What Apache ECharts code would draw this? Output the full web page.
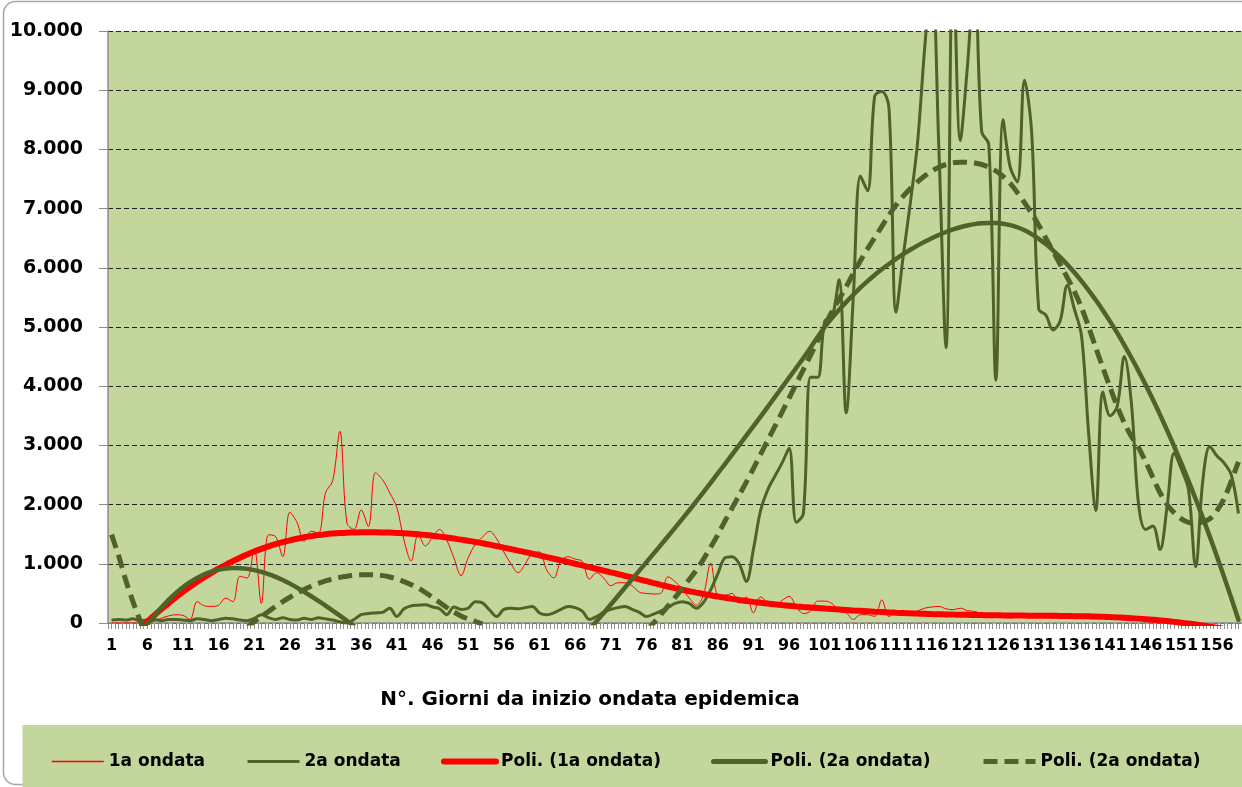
<!doctype html>
<html lang="it">
<head>
<meta charset="UTF-8" />
<title>Ondate epidemiche</title>
<style>
  html, body { margin: 0; padding: 0; background: #fff; }
  #chart { width: 1242px; height: 787px; }
</style>
</head>
<body>
<div id="chart"></div>
<script src="https://cdn.jsdelivr.net/npm/echarts@6/dist/echarts.min.js"></script>
<script>
// giorni da inizio ondata (1..159)
var days = [];
for (var i = 1; i <= 159; i++) days.push(String(i));

// 1a ondata (valori giornalieri, finisce al giorno 150)
var firstWave = [
  0, 0, 0, 0, 0, 10, 30, 80, 120, 140,
  130, 60, 360, 290, 280, 300, 420, 360, 790, 760,
  1260, 330, 1490, 1460, 1120, 1870, 1700, 1380, 1550, 1520,
  2200, 2400, 3240, 1690, 1580, 1910, 1630, 2540, 2420, 2200,
  1950, 1400, 1050, 1500, 1300, 1450, 1580, 1400, 1100, 800,
  1100, 1330, 1450, 1550, 1420, 1200, 1000, 850, 1000, 1180,
  1200, 900, 760, 1050, 1120, 1080, 1040, 740, 850, 760,
  630, 680, 680, 630, 520, 500, 490, 500, 780, 700,
  580, 420, 300, 480, 1010, 480, 470, 500, 340, 440,
  170, 440, 350, 290, 380, 450, 280, 160, 200, 370,
  370, 330, 200, 170, 60, 140, 140, 110, 390, 110,
  170, 150, 140, 200, 250, 270, 280, 240, 225, 250,
  210, 195, 160, 130, 110, 100, 85, 110, 140, 120,
  110, 95, 85, 110, 120, 130, 140, 125, 112, 90,
  60, 70, 80, 60, 50, 40, 30, 20, 10, 0,
  null, null, null, null, null, null, null, null, null
];

// 2a ondata
var secondWave = [
  50, 60, 50, 70, 40, 50, 60, 40, 60, 60,
  50, 40, 70, 60, 40, 60, 80, 70, 50, 40,
  80, 140, 90, 60, 90, 60, 50, 80, 60, 90,
  70, 50, 20, 0, 60, 140, 160, 170, 180, 250,
  110, 240, 290, 300, 310, 270, 240, 140, 270, 230,
  250, 360, 340, 220, 110, 230, 250, 240, 260, 280,
  170, 140, 170, 230, 280, 260, 200, 60, 110, 180,
  230, 260, 280, 230, 180, 110, 150, 200, 260, 330,
  360, 330, 250, 350, 560, 830, 1100, 1120, 1000, 700,
  1250, 1900, 2250, 2480, 2700, 2950, 1700, 1850, 4150, 4150,
  5100, 5150, 5800, 3550, 5500, 7550, 7300, 8900, 8980, 8700,
  5250, 6200, 7100, 8100, 9700, 11000, 8000, 4650, 11500, 8150,
  9400, 11000, 8300, 8080, 4100, 8500, 7700, 7450, 9170, 8300,
  5300, 5200, 4950, 5100, 5700, 5300, 4850, 3200, 1900, 3900,
  3500, 3660, 4500, 3700, 2000, 1580, 1640, 1240, 1970, 2870,
  2600, 2250, 950, 2400, 2980, 2820, 2700, 2500, 1850
];

// linea di tendenza polinomiale 1a ondata (sotto lo zero non si vede)
var trendFirst = [
  -560, -440, -320, -205, -95, 22, 130, 235, 336, 433,
  525, 612, 695, 773, 847, 917, 983, 1045, 1103, 1157,
  1207, 1253, 1295, 1333, 1367, 1397, 1424, 1448, 1468, 1485,
  1499, 1510, 1519, 1525, 1529, 1531, 1532, 1532, 1530, 1527,
  1522, 1516, 1508, 1498, 1487, 1474, 1459, 1443, 1426, 1408,
  1389, 1368, 1346, 1323, 1299, 1274, 1249, 1223, 1197, 1170,
  1142, 1114, 1086, 1058, 1030, 1001, 972, 943, 914, 885,
  856, 827, 797, 768, 737, 706, 675, 645, 616, 588,
  562, 537, 513, 490, 468, 447, 427, 408, 390, 373,
  357, 342, 328, 315, 303, 292, 281, 271, 262, 253,
  244, 236, 228, 220, 212, 205, 198, 191, 185, 179,
  173, 168, 163, 159, 155, 151, 148, 145, 142, 140,
  138, 136, 134, 132, 130, 128, 127, 126, 125, 124,
  123, 122, 121, 120, 118, 116, 114, 112, 109, 105,
  100, 95, 89, 82, 74, 65, 55, 44, 32, 19,
  5, -10, -26, -43, -61, -80, -100, -121, -143
];

// tendenza polinomiale 2a ondata (linea continua)
var trendSecond = [
  -700, -540, -390, -250, -120, -20, 120, 260, 390, 505,
  605, 690, 762, 822, 868, 901, 921, 929, 926, 914,
  893, 864, 826, 780, 726, 665, 598, 527, 452, 374,
  293, 210, 125, 38, -50, null, null, null, null, null,
  null, null, null, null, null, null, null, null, null, null,
  null, null, null, null, null, null, null, null, null, null,
  null, null, null, null, null, null, null, -100, 28, 170,
  313, 456, 599, 742, 885, 1028, 1172, 1316, 1462, 1608,
  1756, 1905, 2057, 2212, 2368, 2526, 2685, 2845, 3005, 3165,
  3325, 3485, 3650, 3815, 3980, 4145, 4310, 4475, 4650, 4830,
  5000, 5150, 5290, 5420, 5545, 5665, 5775, 5880, 5975, 6065,
  6150, 6230, 6305, 6375, 6440, 6500, 6555, 6605, 6648, 6685,
  6715, 6738, 6752, 6758, 6755, 6743, 6720, 6685, 6635, 6570,
  6490, 6400, 6295, 6180, 6055, 5920, 5775, 5620, 5455, 5280,
  5095, 4900, 4695, 4480, 4255, 4020, 3775, 3520, 3255, 2980,
  2695, 2400, 2095, 1780, 1455, 1120, 775, 420, 55
];

// tendenza polinomiale 2a ondata (tratteggiata)
var trendSecondDash = [
  1492, 1130, 720, 360, 40, -260, null, null, null, null,
  null, null, null, null, null, null, null, null, null, -80,
  25, 110, 195, 280, 360, 435, 505, 567, 622, 670,
  710, 743, 770, 790, 804, 813, 816, 812, 800, 778,
  745, 700, 648, 592, 515, 432, 345, 262, 185, 120,
  68, 25, -20, null, null, null, null, null, null, null,
  null, null, null, null, null, null, null, null, null, null,
  null, null, null, null, null, -120, 0, 140, 285, 430,
  580, 735, 895, 1080, 1280, 1490, 1720, 1940, 2160, 2380,
  2610, 2850, 3085, 3320, 3560, 3800, 4040, 4280, 4520, 4770,
  5020, 5260, 5470, 5680, 5905, 6120, 6320, 6510, 6700, 6890,
  7060, 7210, 7340, 7450, 7550, 7635, 7700, 7745, 7775, 7785,
  7782, 7770, 7745, 7700, 7635, 7545, 7425, 7270, 7100, 6920,
  6720, 6500, 6280, 6060, 5835, 5600, 5330, 5000, 4650, 4310,
  3980, 3660, 3380, 3150, 2960, 2720, 2460, 2200, 2000, 1860,
  1760, 1700, 1690, 1710, 1760, 1900, 2100, 2400, 2720
];

var OLIVE = '#4f6228';
var RED = '#ff0000';
var GREEN_BG = '#c3d69b';
var GREY = '#8c8c8c';

// asse secondario solo per le tacche ogni mezzo giorno
var halfSteps = [];
for (var k = 0; k < days.length * 2; k++) halfSteps.push('');

function thousands(v) {
  return String(v).replace(/\B(?=(\d{3})+(?!\d))/g, '.');
}

// una legenda per voce, cosi' le posizioni sono quelle del grafico originale
var legendNames = ['1a ondata', '2a ondata', 'Poli. (1a ondata)', 'Poli. (2a ondata)', 'Poli. (2a ondata) '];
var legendLeft = [46, 241, 436, 706, 976];
var legendLine = [
  { color: RED, width: 1.5, type: 'solid' },
  { color: OLIVE, width: 3, type: 'solid' },
  { color: RED, width: 6, type: 'solid', cap: 'round' },
  { color: OLIVE, width: 5, type: 'solid', cap: 'round' },
  { color: OLIVE, width: 5, type: [14, 7] }
];
var legends = legendNames.map(function (name, idx) {
  return {
    left: legendLeft[idx], top: 748,
    itemWidth: 52, itemHeight: 4, itemGap: 0,
    itemStyle: { opacity: 0 },
    lineStyle: legendLine[idx],
    textStyle: { fontSize: 17, fontWeight: 'bold', color: '#000', fontFamily: 'DejaVu Sans' },
    formatter: function (n) { return n.trim(); },
    data: [name]
  };
});

var chart = echarts.init(document.getElementById('chart'));

var option = {
  animation: false,
  backgroundColor: '#fff',
  textStyle: { fontFamily: 'DejaVu Sans' },
  graphic: [
    {
      type: 'rect', silent: true,
      shape: { x: 3.5, y: 1.5, width: 1300, height: 783, r: 12 },
      style: { fill: 'none', stroke: '#a6a6a6', lineWidth: 1.5 }
    },
    {
      type: 'rect', silent: true,
      shape: { x: 22.5, y: 725, width: 1240, height: 70 },
      style: { fill: GREEN_BG }
    },
    {
      type: 'text', silent: true, x: 590, y: 700,
      style: {
        text: 'N°. Giorni da inizio ondata epidemica',
        font: 'bold 20px "DejaVu Sans"',
        fill: '#000', textAlign: 'center', textVerticalAlign: 'middle'
      }
    }
  ],
  legend: legends,
  grid: {
    left: 108, right: -3, top: 31, bottom: 164,
    show: true, backgroundColor: GREEN_BG, borderWidth: 0
  },
  xAxis: [
    {
      type: 'category', data: days, boundaryGap: true,
      axisLine: { lineStyle: { color: GREY, width: 1.5 } },
      axisTick: { show: false },
      axisLabel: { interval: 4, margin: 15, fontSize: 16, fontWeight: 'bold', color: '#000' }
    },
    {
      type: 'category', data: halfSteps, position: 'bottom',
      axisLine: { show: false },
      axisTick: { show: true, interval: 0, length: 6, lineStyle: { color: GREY } },
      axisLabel: { show: false },
      splitLine: { show: false }
    }
  ],
  yAxis: {
    type: 'value', min: 0, max: 10000, interval: 1000,
    axisLine: { show: true, lineStyle: { color: GREY, width: 1.5 } },
    axisTick: { show: true, length: 9, lineStyle: { color: GREY } },
    axisLabel: { margin: 25, fontSize: 19, fontWeight: 'bold', color: '#000', formatter: thousands },
    splitLine: { lineStyle: { type: [5, 3], color: '#222', width: 1 } }
  },
  series: [
    {
      name: '1a ondata', type: 'line', data: firstWave, symbol: 'none', smooth: 0.35,
      lineStyle: { color: RED, width: 1 }, itemStyle: { color: RED }
    },
    {
      name: '2a ondata', type: 'line', data: secondWave, symbol: 'none', smooth: 0.35,
      lineStyle: { color: OLIVE, width: 3 }, itemStyle: { color: OLIVE }
    },
    {
      name: 'Poli. (1a ondata)', type: 'line', data: trendFirst, symbol: 'none', smooth: 0.3,
      lineStyle: { color: RED, width: 6, cap: 'round' }, itemStyle: { color: RED }
    },
    {
      name: 'Poli. (2a ondata)', type: 'line', data: trendSecond, symbol: 'none', smooth: 0.3,
      lineStyle: { color: OLIVE, width: 4.5, cap: 'round' }, itemStyle: { color: OLIVE }
    },
    {
      name: 'Poli. (2a ondata) ', type: 'line', data: trendSecondDash, symbol: 'none', smooth: 0.3,
      lineStyle: { color: OLIVE, width: 5, type: [14, 7] }, itemStyle: { color: OLIVE }
    }
  ]
};

chart.setOption(option);
window.onresize = function () { chart.resize(); };
</script>
</body>
</html>
